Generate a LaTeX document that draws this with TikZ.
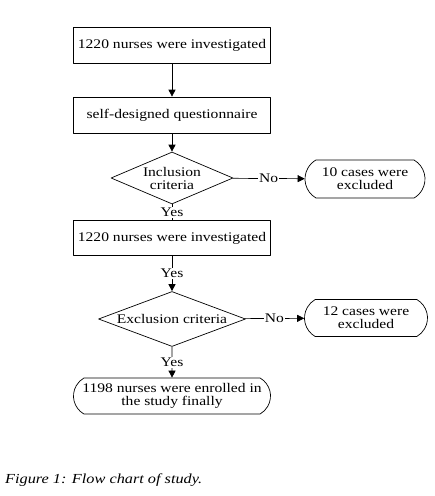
\documentclass[tikz,border=0pt]{standalone}
\usepackage{fontspec}
\setmainfont[FakeStretch=1.18]{Liberation Serif}
\usetikzlibrary{arrows.meta,shapes.geometric,shapes.misc}
\begin{document}
\begin{tikzpicture}[x=1pt,y=-1pt,>={Triangle[length=7pt,width=7pt]}, line join=round, font=\fontsize{13.2}{13}\selectfont]
            \tikzset{procbox/.style={draw, line width=0.7pt, minimum width=197pt, minimum height=36pt, inner sep=0pt},
                     decide/.style={draw, diamond, line width=0.7pt, inner sep=0pt},
                     endbox/.style={draw, rounded rectangle, rounded rectangle arc length=120, line width=0.7pt, align=center, inner sep=0pt},
                     flowline/.style={line width=0.7pt},
                     answer/.style={fill=white, inner sep=1pt}}
            \useasboundingbox (0,0) rectangle (435,496);
            \node[procbox] (start) at (172,45) {1220 nurses were investigated};
            \node[procbox] (quest) at (172,115) {self-designed questionnaire};
            \node[decide, minimum width=122pt, minimum height=52pt] (incl) at (172,178) {};
            \node[align=center] (incltext) at (incl) {Inclusion\\criteria};
            \node[endbox, minimum width=120pt, minimum height=38pt] (out1) at (365,179) {10 cases were\\excluded};
            \node[procbox, minimum height=35pt] (kept) at (172,238) {1220 nurses were investigated};
            \node[decide, minimum width=147pt, minimum height=55pt] (excl) at (172,319) {};
            \node (excltext) at (excl) {Exclusion criteria};
            \node[endbox, minimum width=123pt, minimum height=37pt] (out2) at (366,318) {12 cases were\\excluded};
            \node[endbox, minimum width=197pt, minimum height=36pt] (final) at (172,396) {1198 nurses were enrolled in\\the study finally};
            \draw[flowline,->] (start) -- (quest);
            \draw[flowline,->] (quest) -- (incl);
            \draw[flowline,->] (incl) -- node[answer]{No} (out1);
            \draw[flowline] (incl) -- node[answer]{Yes} (kept);
            \draw[flowline,->] (kept) -- node[answer]{Yes} (excl);
            \draw[flowline,->] (excl) -- node[answer]{No} (out2);
            \draw[flowline,->] (excl) -- node[answer]{Yes} (final);
            \node[anchor=base west, inner sep=0pt, font=\itshape\fontsize{13.8}{14}\selectfont] (caption) at (5,483) {Figure 1: Flow chart of study.};
        \end{tikzpicture}
\end{document}
